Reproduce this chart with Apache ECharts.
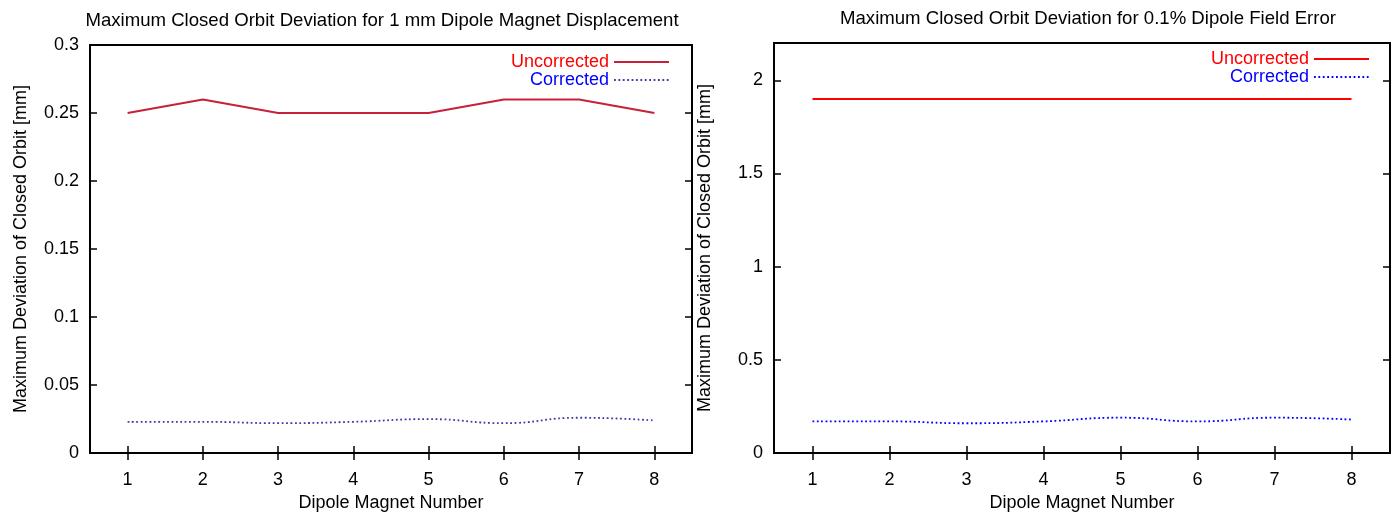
<!DOCTYPE html>
<html>
<head>
    <meta charset="utf-8">
    <title>Closed orbit deviation</title>
    <script src="https://cdn.jsdelivr.net/npm/echarts@6/dist/echarts.min.js"></script>
    <style>
        html, body { margin: 0; padding: 0; background: #fff; }
        #chart { width: 1395px; height: 517px; }
    </style>
</head>
<body>
<div id="chart"></div>
<script>
    // dipole magnet numbers
    const magnets = ['1', '2', '3', '4', '5', '6', '7', '8'];

    // left plot: 1 mm dipole displacement
    const dispUncorrected = [0.25, 0.26, 0.25, 0.25, 0.25, 0.26, 0.26, 0.25];
    const dispCorrected = [0.023, 0.023, 0.022, 0.023, 0.025, 0.022, 0.026, 0.024];

    // right plot: 0.1% dipole field error
    const fieldUncorrected = [1.9, 1.9, 1.9, 1.9, 1.9, 1.9, 1.9, 1.9];
    const fieldCorrected = [0.17, 0.17, 0.16, 0.17, 0.19, 0.17, 0.19, 0.18];

    const font = 'Liberation Sans, Arial, sans-serif';
    const fs = 18;
    const yName = 'Maximum Deviation of Closed Orbit [mm]';
    const xName = 'Dipole Magnet Number';

    const tickIn = { show: true, inside: true, length: 7, alignWithLabel: true, lineStyle: { color: '#000', width: 1.5 } };

    function xAxes(gridIndex) {
        return [{
            type: 'category', gridIndex: gridIndex, position: 'bottom', data: magnets,
            boundaryGap: true,
            axisLine: { show: false },
            axisTick: tickIn,
            axisLabel: { color: '#000', fontSize: fs, fontFamily: font, margin: 18 },
            name: xName, nameLocation: 'middle', nameGap: 39,
            nameTextStyle: { color: '#000', fontSize: fs, fontFamily: font },
            splitLine: { show: false }
        }, {
            type: 'category', gridIndex: gridIndex, position: 'top', data: magnets,
            boundaryGap: true,
            axisLine: { show: false },
            axisTick: tickIn,
            axisLabel: { show: false },
            splitLine: { show: false }
        }];
    }

    function yAxes(gridIndex, max, interval) {
        return [{
            type: 'value', gridIndex: gridIndex, position: 'left',
            min: 0, max: max, interval: interval,
            axisLine: { show: false },
            axisTick: tickIn,
            axisLabel: { color: '#000', fontSize: fs, fontFamily: font, margin: 11, showMaxLabel: max === 0.3 },
            name: yName, nameLocation: 'middle', nameGap: 60,
            nameTextStyle: { color: '#000', fontSize: fs, fontFamily: font },
            splitLine: { show: false }
        }, {
            type: 'value', gridIndex: gridIndex, position: 'right',
            min: 0, max: max, interval: interval,
            axisLine: { show: false },
            axisTick: tickIn,
            axisLabel: { show: false },
            splitLine: { show: false }
        }];
    }

    function legendFor(names, right, top) {
        return {
            orient: 'vertical', right: right, top: top, align: 'right',
            itemWidth: 55, itemHeight: 14, itemGap: 0,
            selectedMode: false,
            itemStyle: { opacity: 0 },
            formatter: name => name.split('#')[0],
            data: [
                { name: names[0], textStyle: { color: '#ff0000', fontSize: fs, lineHeight: 18, fontFamily: font } },
                { name: names[1], textStyle: { color: '#0000ff', fontSize: fs, lineHeight: 18, fontFamily: font } }
            ]
        };
    }

    const option = {
        animation: false,
        backgroundColor: '#fff',
        title: [{
            text: 'Maximum Closed Orbit Deviation for 1 mm Dipole Magnet Displacement',
            left: 377, top: 6, textAlign: 'center',
            textStyle: { color: '#000', fontSize: 18.6, fontWeight: 'normal', fontFamily: font }
        }, {
            text: 'Maximum Closed Orbit Deviation for 0.1% Dipole Field Error',
            left: 1083, top: 4, textAlign: 'center',
            textStyle: { color: '#000', fontSize: 18.6, fontWeight: 'normal', fontFamily: font }
        }],
        legend: [
            legendFor(['Uncorrected#1', 'Corrected#1'], 720, 48),
            legendFor(['Uncorrected#2', 'Corrected#2'], 20, 45)
        ],
        grid: [
            { left: 90, top: 45, width: 602, height: 411, show: true, borderColor: '#000', borderWidth: 2 },
            { left: 774, top: 43, width: 616, height: 414, show: true, borderColor: '#000', borderWidth: 2 }
        ],
        xAxis: [...xAxes(0), ...xAxes(1)],
        yAxis: [...yAxes(0, 0.3, 0.05), ...yAxes(1, 2.2, 0.5)],
        series: [{
            name: 'Uncorrected#1', type: 'line', xAxisIndex: 0, yAxisIndex: 0,
            data: dispUncorrected, symbol: 'none', color: '#c8203a',
            lineStyle: { color: '#c8203a', width: 2 }
        }, {
            name: 'Corrected#1', type: 'line', xAxisIndex: 0, yAxisIndex: 0,
            data: dispCorrected, symbol: 'none', smooth: true, color: '#3a3aa8',
            lineStyle: { color: '#3a3aa8', width: 1.8, type: [1.8, 2.6] }
        }, {
            name: 'Uncorrected#2', type: 'line', xAxisIndex: 2, yAxisIndex: 2,
            data: fieldUncorrected, symbol: 'none', color: '#ff0000',
            lineStyle: { color: '#ff0000', width: 2 }
        }, {
            name: 'Corrected#2', type: 'line', xAxisIndex: 2, yAxisIndex: 2,
            data: fieldCorrected, symbol: 'none', smooth: true, color: '#0000ff',
            lineStyle: { color: '#0000ff', width: 1.8, type: [1.8, 2.6] }
        }]
    };

    const chart = echarts.init(document.getElementById('chart'));
    chart.setOption(option);
</script>
</body>
</html>
